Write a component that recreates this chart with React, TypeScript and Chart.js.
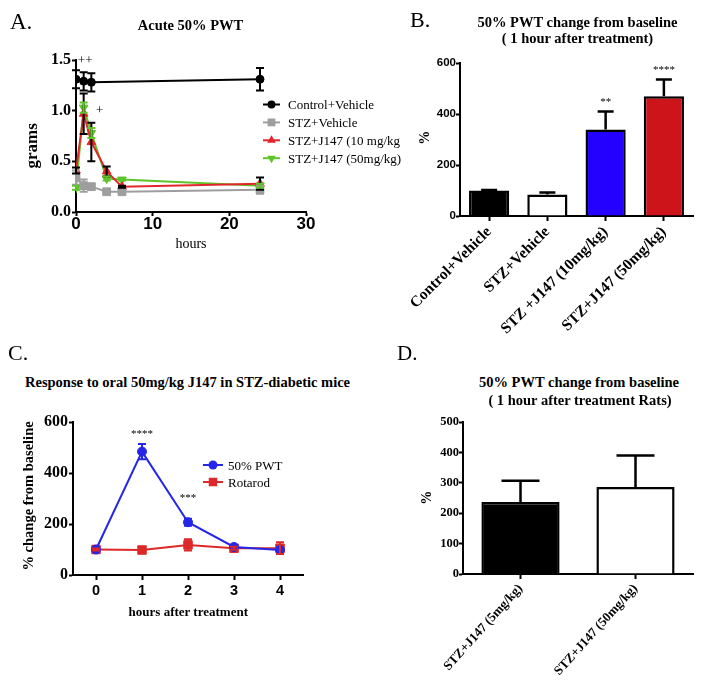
import React, { useEffect, useRef } from 'react';
import { Chart, registerables } from 'chart.js';
Chart.register(...registerables);

const SERIF = "'Liberation Serif', 'Times New Roman', serif";
const SANS = "'Liberation Sans', Arial, sans-serif";

// ---------- Panel A data ----------
const A_CTRL_X = [0, 1, 2, 24];
const A_CTRL_Y = [1.31, 1.29, 1.28, 1.31];
const A_CTRL_ERR = [0.09, 0.09, 0.09, 0.11];
const A_STZ_X = [0, 1, 2, 4, 6, 24];
const A_STZ_Y = [0.34, 0.26, 0.25, 0.2, 0.2, 0.22];
const A_STZ_ERR = [0.07, 0.06, 0.03, 0.01, 0.02, 0.04];
const A_J10_X = [0, 1, 2, 4, 6, 24];
const A_J10_Y = [0.41, 0.97, 0.69, 0.4, 0.25, 0.28];
const A_J10_ERR = [0.03, 0.2, 0.19, 0.05, 0.01, 0.06];
const A_J50_X = [0, 1, 2, 4, 6, 24];
const A_J50_Y = [0.24, 1.03, 0.78, 0.33, 0.32, 0.26];
const A_J50_ERR = [0.02, 0.05, 0.05, 0.02, 0.01, 0.02];
const A_SERIES = ['Control+Vehicle', 'STZ+Vehicle', 'STZ+J147 (10 mg/kg', 'STZ+J147 (50mg/kg)'];
const A_X_TICKS = [0, 10, 20, 30];
const A_Y_TICKS = [0, 0.5, 1.0, 1.5];
const A_MARKS = [
  { x: 1.2, y: 1.46, text: '++' },
  { x: 3.1, y: 0.97, text: '+' },
];

// ---------- Panel B data ----------
const B_LABELS = ['Control+Vehicle', 'STZ+Vehicle', 'STZ +J147 (10mg/kg)', 'STZ+J147 (50mg/kg)'];
const B_VALUES = [100, 84, 339, 470];
const B_ERR = [2, 8, 71, 65];
const B_COLORS = ['#000000', '#ffffff', '#2400ff', '#cc141a'];
const B_MARKS = [
  { x: 2, y: 437, text: '**' },
  { x: 3, y: 562, text: '****' },
];

// ---------- Panel C data ----------
const C_X = [0, 1, 2, 3, 4];
const C_PWT = [100, 484, 207, 110, 98];
const C_PWT_ERR = [4, 30, 14, 8, 12];
const C_ROT = [100, 98, 118, 105, 105];
const C_ROT_ERR = [4, 8, 22, 6, 23];
const C_SERIES = ['50% PWT', 'Rotarod'];
const C_MARKS = [
  { x: 1, y: 543, text: '****' },
  { x: 2, y: 289, text: '***' },
];

// ---------- Panel D data ----------
const D_LABELS = ['STZ+J147 (5mg/kg)', 'STZ+J147 (50mg/kg)'];
const D_VALUES = [237, 286];
const D_ERR = [70, 104];
const D_COLORS = ['#000000', '#ffffff'];

// ---------- plugins ----------
function drawMarker(ctx: CanvasRenderingContext2D, style: string, x: number, y: number, r: number, rot: number, color: string) {
  ctx.save();
  ctx.translate(x, y);
  ctx.rotate((rot * Math.PI) / 180);
  ctx.fillStyle = color;
  ctx.beginPath();
  if (style === 'rect') {
    const s = r * Math.SQRT1_2;
    ctx.rect(-s, -s, 2 * s, 2 * s);
  } else if (style === 'triangle') {
    ctx.moveTo(0, -r);
    ctx.lineTo(r * 0.866, r * 0.5);
    ctx.lineTo(-r * 0.866, r * 0.5);
    ctx.closePath();
  } else {
    ctx.arc(0, 0, r, 0, Math.PI * 2);
  }
  ctx.fill();
  ctx.restore();
}

const legendPlugin = {
  id: 'customLegend',
  afterDraw(chart: any, _a: any, o: any) {
    if (!o || o.x == null) return;
    const ctx = chart.ctx;
    ctx.save();
    chart.data.datasets.forEach((ds: any, i: number) => {
      const cy = o.y + i * o.rowH;
      ctx.strokeStyle = ds.borderColor;
      ctx.lineWidth = 2;
      ctx.beginPath();
      ctx.moveTo(o.x, cy);
      ctx.lineTo(o.x + o.lineLen, cy);
      ctx.stroke();
      drawMarker(ctx, ds.pointStyle, o.x + o.lineLen / 2, cy, ds.pointRadius, ds.pointRotation || 0, ds.borderColor);
      ctx.fillStyle = '#000';
      ctx.font = o.font;
      ctx.textAlign = 'left';
      ctx.textBaseline = 'alphabetic';
      ctx.fillText(ds.label, o.textX, cy + o.baseOff);
    });
    ctx.restore();
  },
};

const errPlugin = {
  id: 'errBars',
  afterDatasetsDraw(chart: any) {
    const ctx = chart.ctx;
    chart.data.datasets.forEach((ds: any, i: number) => {
      if (!ds.errors) return;
      const meta = chart.getDatasetMeta(i);
      const ys = chart.scales[meta.yAxisID];
      ctx.save();
      ctx.strokeStyle = ds.errColor;
      ctx.lineWidth = ds.errWidth;
      meta.data.forEach((el: any, j: number) => {
        const e = ds.errors[j];
        if (!e) return;
        const d = ds.data[j];
        const v = typeof d === 'number' ? d : d.y;
        const x = el.x;
        const yt = ys.getPixelForValue(v + e);
        const yb = ys.getPixelForValue(ds.errUp ? v : v - e);
        ctx.beginPath();
        ctx.moveTo(x, yt);
        ctx.lineTo(x, yb);
        ctx.moveTo(x - ds.errCap, yt);
        ctx.lineTo(x + ds.errCap, yt);
        if (!ds.errUp) {
          ctx.moveTo(x - ds.errCap, yb);
          ctx.lineTo(x + ds.errCap, yb);
        }
        ctx.stroke();
      });
      ctx.restore();
    });
  },
};

const marksPlugin = {
  id: 'marks',
  afterDraw(chart: any, _a: any, o: any) {
    if (!o || !o.items) return;
    const ctx = chart.ctx;
    ctx.save();
    ctx.font = o.font;
    ctx.fillStyle = '#000';
    ctx.textAlign = 'center';
    ctx.textBaseline = 'alphabetic';
    for (let k = 0; k < o.items.length; k++) {
      const it = o.items[k];
      ctx.fillText(it.text, chart.scales.x.getPixelForValue(it.x), chart.scales.y.getPixelForValue(it.y));
    }
    ctx.restore();
  },
};

const fit = (size: number, horiz: boolean) => (s: any) => {
  if (horiz) s.height = size;
  else s.width = size;
  s.paddingLeft = 0;
  s.paddingRight = 0;
  s.paddingTop = 0;
  s.paddingBottom = 0;
};

const axisCommon = (tickLength: number) => ({
  grid: { display: true, drawOnChartArea: false, drawTicks: true, tickLength, tickWidth: 2, tickColor: '#000', offset: false },
  border: { display: true, color: '#000', width: 2 },
});

const baseOpts = {
  responsive: false,
  animation: false as const,
  events: [] as any[],
};

function lineDs(label: string, xs: number[], ys: number[], errs: number[], color: string, style: string, r: number, errColor: string, rot = 0) {
  return {
    label,
    data: xs.map((x, i) => ({ x, y: ys[i] })),
    borderColor: color,
    backgroundColor: color,
    pointBackgroundColor: color,
    pointBorderColor: color,
    pointBorderWidth: 1,
    pointStyle: style,
    pointRadius: r,
    pointRotation: rot,
    borderWidth: 2,
    tension: 0,
    errors: errs,
    errColor,
    errWidth: 2,
    errCap: 4,
  };
}

function configA(): any {
  return {
    type: 'line',
    data: {
      datasets: [
        lineDs(A_SERIES[0], A_CTRL_X, A_CTRL_Y, A_CTRL_ERR, '#000000', 'circle', 4, '#000000'),
        lineDs(A_SERIES[1], A_STZ_X, A_STZ_Y, A_STZ_ERR, '#9e9e9e', 'rect', 5.5, '#9e9e9e'),
        lineDs(A_SERIES[2], A_J10_X, A_J10_Y, A_J10_ERR, '#e3262b', 'triangle', 5, '#000000'),
        lineDs(A_SERIES[3], A_J50_X, A_J50_Y, A_J50_ERR, '#5fc42a', 'triangle', 5, '#5fc42a', 180),
      ],
    },
    options: {
      ...baseOpts,
      layout: { padding: { left: 0, top: 60, right: 114, bottom: 0 } },
      scales: {
        x: {
          type: 'linear', min: 0, max: 30,
          afterFit: fit(50, true),
          afterBuildTicks: (s: any) => { s.ticks = A_X_TICKS.map((v) => ({ value: v })); },
          ticks: { color: '#000', padding: 0, font: { family: SANS, size: 17, weight: 'bold', lineHeight: 1 } },
          ...axisCommon(4),
        },
        y: {
          type: 'linear', min: 0, max: 1.5,
          afterFit: fit(76, false),
          afterBuildTicks: (s: any) => { s.ticks = A_Y_TICKS.map((v) => ({ value: v })); },
          ticks: { color: '#000', padding: 1, font: { family: SERIF, size: 16, weight: 'bold' }, callback: (v: any) => Number(v).toFixed(1) },
          ...axisCommon(4),
        },
      },
      plugins: {
        legend: { display: false },
        tooltip: { enabled: false },
        customLegend: { x: 263, y: 104.5, rowH: 17.9, lineLen: 17, textX: 288, baseOff: 4.5, font: `13px ${SERIF}` },
        marks: { items: A_MARKS, font: `13px ${SERIF}` },
      },
    },
    plugins: [errPlugin, legendPlugin, marksPlugin],
  };
}

function barConfig(labels: string[], values: number[], errs: number[], colors: string[], o: any): any {
  return {
    type: 'bar',
    data: {
      labels,
      datasets: [
        {
          data: values,
          backgroundColor: colors,
          borderColor: '#000',
          borderWidth: 2.5,
          borderSkipped: 'bottom',
          barPercentage: o.barPct,
          categoryPercentage: 1,
          errors: errs,
          errUp: true,
          errColor: '#000',
          errWidth: 2.5,
          errCap: o.cap,
        },
      ],
    },
    options: {
      ...baseOpts,
      layout: { padding: o.padding },
      scales: {
        x: {
          type: 'category', offset: true,
          afterFit: fit(o.xH, true),
          ticks: { color: '#000', autoSkip: false, minRotation: o.rot, maxRotation: o.rot, padding: 2, font: { family: SERIF, size: o.xFont, weight: 'bold' } },
          ...axisCommon(5),
        },
        y: {
          type: 'linear', min: 0, max: o.yMax,
          afterFit: fit(o.yW, false),
          ticks: { color: '#000', stepSize: o.step, padding: 0, font: o.yTickFont },
          ...axisCommon(4),
        },
      },
      plugins: {
        legend: { display: false },
        tooltip: { enabled: false },
        marks: o.marks ? { items: o.marks, font: `11px ${SERIF}` } : {},
      },
    },
    plugins: [errPlugin, marksPlugin],
  };
}

function configC(): any {
  return {
    type: 'line',
    data: {
      datasets: [
        lineDs(C_SERIES[0], C_X, C_PWT, C_PWT_ERR, '#2626e8', 'circle', 4.5, '#2626e8'),
        lineDs(C_SERIES[1], C_X, C_ROT, C_ROT_ERR, '#dc2828', 'rect', 6, '#dc2828'),
      ],
    },
    options: {
      ...baseOpts,
      layout: { padding: { left: 0, top: 22, right: 47, bottom: 0 } },
      scales: {
        x: {
          type: 'linear', min: -0.5, max: 4.5,
          afterFit: fit(65, true),
          afterBuildTicks: (s: any) => { s.ticks = C_X.map((v) => ({ value: v })); },
          ticks: { color: '#000', padding: 4, font: { family: SANS, size: 14.5, weight: 'bold', lineHeight: 1 } },
          ...axisCommon(5),
        },
        y: {
          type: 'linear', min: 0, max: 600,
          afterFit: fit(73, false),
          ticks: { color: '#000', stepSize: 200, padding: 1, font: { family: SERIF, size: 16, weight: 'bold' } },
          ...axisCommon(4),
        },
      },
      plugins: {
        legend: { display: false },
        tooltip: { enabled: false },
        customLegend: { x: 203, y: 65, rowH: 17, lineLen: 20, textX: 228, baseOff: 5, font: `13px ${SERIF}` },
        marks: { items: C_MARKS, font: `11px ${SERIF}` },
      },
    },
    plugins: [errPlugin, legendPlugin, marksPlugin],
  };
}

function T(p: { x: number; y: number; size: number; bold?: boolean; family?: string; anchor?: string; rot?: number; children: any }) {
  const asc = 0.34 * p.size;
  const shift = p.anchor === 'middle' ? '-50%' : p.anchor === 'end' ? '-100%' : '0';
  return (
    <div
      style={{
        position: 'absolute',
        left: p.x,
        top: p.y - asc,
        lineHeight: 0,
        fontSize: p.size,
        fontWeight: p.bold ? 'bold' : 'normal',
        fontFamily: p.family || SERIF,
        whiteSpace: 'nowrap',
        color: '#000',
        transformOrigin: `0 ${asc}px`,
        transform: `rotate(${p.rot || 0}deg) translateX(${shift})`,
      }}
    >
      {p.children}
    </div>
  );
}

export default function App() {
  const ra = useRef<HTMLCanvasElement>(null);
  const rb = useRef<HTMLCanvasElement>(null);
  const rc = useRef<HTMLCanvasElement>(null);
  const rd = useRef<HTMLCanvasElement>(null);

  useEffect(() => {
    const charts = [
      new Chart(ra.current!, configA()),
      new Chart(
        rb.current!,
        barConfig(B_LABELS, B_VALUES, B_ERR, B_COLORS, {
          barPct: 0.69, cap: 8, padding: { left: 0, top: 23, right: 11, bottom: 0 }, xH: 129, yW: 60, rot: 45,
          yMax: 600, step: 200, xFont: 15.5, yTickFont: { family: SANS, size: 11.5, weight: 'bold' }, marks: B_MARKS,
        })
      ),
      new Chart(rc.current!, configC()),
      new Chart(
        rd.current!,
        barConfig(D_LABELS, D_VALUES, D_ERR, D_COLORS, {
          barPct: 0.68, cap: 19, padding: { left: 0, top: 22, right: 11, bottom: 0 }, xH: 107, yW: 63, rot: 48,
          yMax: 500, step: 100, xFont: 13, yTickFont: { family: SERIF, size: 12.5, weight: 'bold' }, marks: null,
        })
      ),
    ];
    return () => charts.forEach((c) => c.destroy());
  }, []);

  const cv = (ref: any, l: number, t: number, w: number, h: number) => (
    <canvas ref={ref} width={w} height={h} style={{ position: 'absolute', left: l, top: t, width: w, height: h }} />
  );

  return (
    <div style={{ position: 'absolute', left: 0, top: 0, width: 704, height: 681, background: '#fff', overflow: 'hidden' }}>
      {cv(ra, 0, 0, 420, 262)}
      {cv(rb, 400, 40, 304, 305)}
      {cv(rc, 0, 400, 350, 240)}
      {cv(rd, 400, 400, 304, 281)}

      <T x={10} y={30} size={23}>A.</T>
      <T x={190.5} y={30} size={14.5} bold anchor="middle">Acute 50% PWT</T>
      <T x={38} y={146} size={17} bold anchor="middle" rot={-90}>grams</T>
      <T x={191} y={249} size={14} anchor="middle">hours</T>

      <T x={410} y={27} size={22}>B.</T>
      <T x={577.5} y={26.5} size={14.5} bold anchor="middle">50% PWT change from baseline</T>
      <T x={577.5} y={42.5} size={14.5} bold anchor="middle">( 1 hour after treatment)</T>
      <T x={430} y={137.5} size={14} bold anchor="middle" rot={-90}>%</T>

      <T x={8} y={360} size={22}>C.</T>
      <T x={25} y={386.5} size={14.5} bold>Response to oral 50mg/kg J147 in STZ-diabetic mice</T>
      <T x={33} y={496} size={14.5} bold anchor="middle" rot={-90}>% change from baseline</T>
      <T x={188.3} y={616} size={13} bold anchor="middle">hours after treatment</T>

      <T x={397} y={360} size={21}>D.</T>
      <T x={579} y={387} size={14.5} bold anchor="middle">50% PWT change from baseline</T>
      <T x={580} y={405} size={14.5} bold anchor="middle">( 1 hour after treatment Rats)</T>
      <T x={431.7} y={497.5} size={14} bold anchor="middle" rot={-90}>%</T>
    </div>
  );
}
